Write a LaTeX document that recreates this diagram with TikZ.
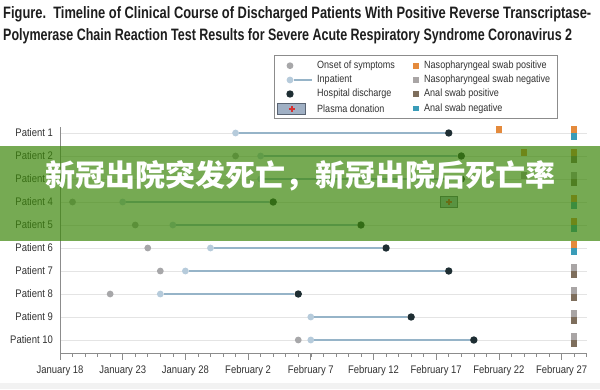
\documentclass[tikz,border=0pt]{standalone}
\usepackage{fontspec}
\setmainfont{Liberation Sans}[FakeStretch=0.86]
\newfontfamily\cjk{Noto Sans CJK SC}
\usetikzlibrary{positioning,calc}
\definecolor{onsetgray}{RGB}{167,167,169}
\definecolor{inpblue}{RGB}{182,203,219}
\definecolor{inpline}{RGB}{150,180,200}
\definecolor{dischdark}{RGB}{30,46,51}
\definecolor{nppos}{RGB}{228,138,60}
\definecolor{npneg}{RGB}{169,165,165}
\definecolor{anpos}{RGB}{126,110,92}
\definecolor{anneg}{RGB}{58,156,184}
\definecolor{gridgray}{RGB}{228,228,228}
\definecolor{axisgray}{RGB}{140,140,140}
\definecolor{bannergreen}{RGB}{60,135,10}
\definecolor{textgray}{RGB}{50,50,50}
\definecolor{titlegray}{RGB}{30,30,30}
\definecolor{plasmafill}{RGB}{160,176,196}
\definecolor{plasmaedge}{RGB}{90,100,115}
\definecolor{plasmared}{RGB}{214,50,50}

\newcommand{\dayx}[1]{60+12.54*#1}
\newcommand{\rowy}[1]{110+23*#1}

\begin{document}
\begin{tikzpicture}[x=1pt, y=-1pt,
    pname/.style={font=\fontsize{11}{13}\selectfont, text=textgray, anchor=east, inner sep=0},
    datelabel/.style={font=\fontsize{11}{13}\selectfont, text=textgray, anchor=base, inner sep=0},
    legtext/.style={font=\fontsize{10.5}{12}\selectfont, text=textgray, anchor=west, inner sep=0},
    rowline/.style={gridgray, line width=0.9pt},
    onset/.style={circle, fill=onsetgray, minimum size=6.8pt, inner sep=0},
    inpat/.style={circle, fill=inpblue, minimum size=6.8pt, inner sep=0},
    disch/.style={circle, fill=dischdark, minimum size=7.4pt, inner sep=0},
    stay/.style={inpline, line width=1.5pt},
    swab/.style={rectangle, minimum width=6.6pt, minimum height=7pt, inner sep=0},
    plasma/.style={rectangle, draw=plasmaedge, fill=plasmafill, line width=0.8pt, minimum width=17pt, minimum height=11pt, inner sep=0},
    redplus/.style={plasmared, line width=2pt}
]
\useasboundingbox (0,0) rectangle (600,389);
\fill[white] (0,0) rectangle (600,389);
\fill[black!5] (0,383) rectangle (600,389);

% Title
\node[anchor=base west, inner sep=0, text=titlegray] (title1) at (3,18)
    {\resizebox{588pt}{\height}{\fontsize{16.5}{18}\selectfont\bfseries Figure.\ \ Timeline of Clinical Course of Discharged Patients With Positive Reverse Transcriptase-}};
\node[anchor=base west, inner sep=0, text=titlegray] (title2) at (3,40)
    {\resizebox{569pt}{\height}{\fontsize{16.5}{18}\selectfont\bfseries Polymerase Chain Reaction Test Results for Severe Acute Respiratory Syndrome Coronavirus 2}};

% Legend
\draw[axisgray, line width=0.8pt] (274,55) rectangle (557,118);
\node[onset] (lgonset) at (290,65.7) {};
\node[legtext] at (317,65.7) {Onset of symptoms};
\node[inpat] (lginp) at (290,80) {};
\coordinate (lginpend) at (312,80);
\draw[stay] (lginp) -- (lginpend);
\node[legtext] at (317,80) {Inpatient};
\node[disch] (lgdis) at (290,94) {};
\node[legtext] at (317,94) {Hospital discharge};
\node[plasma, minimum width=28pt] (lgplasma) at (291.5,109) {};
\draw[redplus] ($(lgplasma)+(-3,0)$) -- ($(lgplasma)+(3,0)$);
\draw[redplus] ($(lgplasma)+(0,-3)$) -- ($(lgplasma)+(0,3)$);
\node[legtext] at (317,108.5) {Plasma donation};
\foreach \c/\t/\y in {nppos/Nasopharyngeal swab positive/65.7, npneg/Nasopharyngeal swab negative/80,
                      anpos/Anal swab positive/94, anneg/Anal swab negative/108.5} {
    \node[swab, fill=\c, minimum width=5.7pt, minimum height=5.7pt] (lg\c) at (415.7,\y) {};
    \node[legtext] at (424,\y) {\t};
}

% Patient rows
\foreach \p in {1,...,10} {
    \node[pname] (p\p) at (53,{\rowy{\p}}) {Patient \p};
    \draw[rowline] (60,{\rowy{\p}}) -- (587,{\rowy{\p}});
}

% Axes and date ticks
\draw[axisgray, line width=0.9pt] (60,127) -- (60,353) -- (587,353);
\foreach \d in {0,...,42} {
    \draw[axisgray, line width=0.6pt] ({\dayx{\d}},353) -- ++(0,4);
}
\foreach \d/\lab in {0/January 18, 5/January 23, 10/January 28, 15/February 2, 20/February 7,
                     25/February 12, 30/February 17, 35/February 22, 40/February 27} {
    \draw[axisgray, line width=0.8pt] ({\dayx{\d}},353) -- ++(0,7);
    \node[datelabel] (d\d) at ({\dayx{\d}},373.5) {\lab};
}

% Onset, admission and discharge
\foreach \p/\ons/\adm/\dis in {2/14/16/32, 3/12/16/32, 4/1/5/17, 5/6/9/24, 6/7/12/26,
                               7/8/10/31, 8/4/8/19, 10/19/20/33} {
    \node[onset] (on\p) at ({\dayx{\ons}},{\rowy{\p}}) {};
    \node[inpat] (in\p) at ({\dayx{\adm}},{\rowy{\p}}) {};
    \node[disch] (out\p) at ({\dayx{\dis}},{\rowy{\p}}) {};
    \draw[stay] (in\p) -- (out\p);
}
\foreach \p/\adm/\dis in {1/14/31, 9/20/28} {
    \node[inpat] (in\p) at ({\dayx{\adm}},{\rowy{\p}}) {};
    \node[disch] (out\p) at ({\dayx{\dis}},{\rowy{\p}}) {};
    \draw[stay] (in\p) -- (out\p);
}

% Swab results
\foreach \p/\top/\bot in {1/nppos/anneg, 2/nppos/anpos, 3/npneg/anpos, 4/nppos/anneg, 5/nppos/anneg,
                          6/nppos/anneg, 7/npneg/anpos, 8/npneg/anpos, 9/npneg/anpos, 10/npneg/anpos} {
    \node[swab, fill=\top, anchor=south] (np\p) at ({\dayx{41}},{\rowy{\p}}) {};
    \node[swab, fill=\bot, below=0pt of np\p] (an\p) {};
}
\node[swab, fill=nppos, anchor=south] (early1) at ({\dayx{35}},{\rowy{1}}) {};
\node[swab, fill=nppos, anchor=south] (early2) at ({\dayx{37}},{\rowy{2}}) {};
\node[swab, fill=npneg, anchor=south] (early3) at ({\dayx{37}},{\rowy{3}}) {};

% Plasma donation
\node[plasma] (plasma4) at ({\dayx{31}},{\rowy{4}}) {};
\draw[redplus] ($(plasma4)+(-3,0)$) -- ($(plasma4)+(3,0)$);
\draw[redplus] ($(plasma4)+(0,-3)$) -- ($(plasma4)+(0,3)$);

% Banner
\fill[bannergreen, fill opacity=0.7] (0,146) rectangle (600,241);
\node[font={\cjk\bfseries\fontsize{30}{32}\selectfont}, text=white, anchor=west, inner sep=0] (banner)
    at (45,176) {新冠出院突发死亡，新冠出院后死亡率};

\end{tikzpicture}
\end{document}
